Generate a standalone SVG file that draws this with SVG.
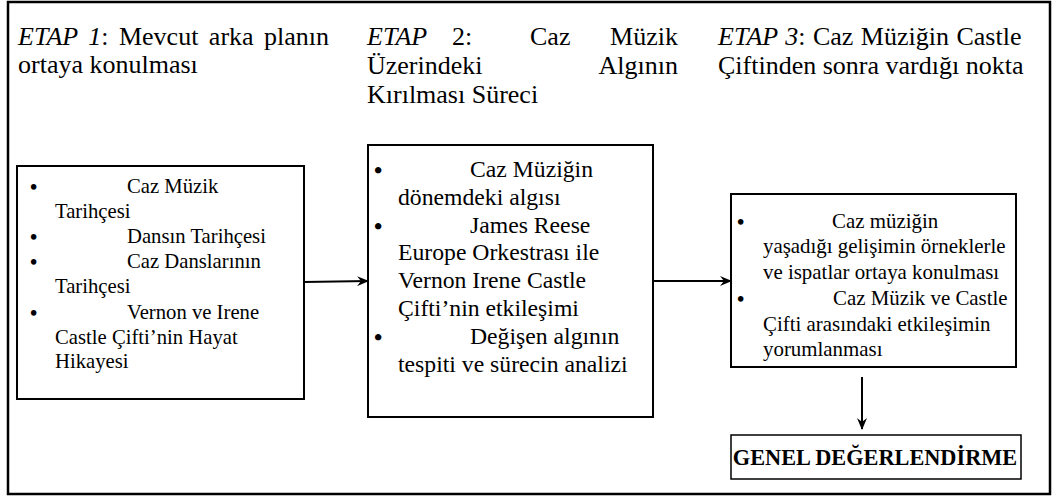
<svg xmlns="http://www.w3.org/2000/svg" width="1053" height="496" viewBox="0 0 1053 496">
<style>
  .box { fill: #fff; stroke: #000; stroke-width: 2; }
  .it { font-style: italic; }
  .bul { font-weight: bold; }
  .conn { stroke: #000; stroke-width: 2; fill: none; }
</style>
<defs>
  <marker id="ah" markerWidth="12" markerHeight="10" refX="11" refY="5" orient="auto" markerUnits="userSpaceOnUse">
    <path d="M0,0 L12,5 L0,10 L4,5 Z" fill="#000"/>
  </marker>
</defs>
<rect x="0" y="0" width="1053" height="496" fill="#fff"/>
<rect id="frame" x="8" y="2" width="1042" height="492" fill="none" stroke="#000" stroke-width="2.5"/>

<g id="titles" font-family="Liberation Serif, serif" font-size="26" fill="#000">
  <text x="18" y="45" word-spacing="4"><tspan class="it">ETAP 1</tspan>: Mevcut arka planın</text>
  <text x="18" y="73">ortaya konulması</text>
  <text x="367" y="45" class="it">ETAP</text>
  <text x="452" y="45">2:</text>
  <text x="530" y="45">Caz</text>
  <text x="678" y="45" text-anchor="end">Müzik</text>
  <text x="367" y="74">Üzerindeki</text>
  <text x="678" y="74" text-anchor="end">Algının</text>
  <text x="367" y="103">Kırılması Süreci</text>
  <text x="718" y="45" word-spacing="1"><tspan class="it">ETAP 3</tspan>: Caz Müziğin Castle</text>
  <text x="718" y="74">Çiftinden sonra vardığı nokta</text>
</g>

<g id="node1">
  <rect class="box" x="17" y="166" width="287" height="233"/>
  <g font-family="Liberation Serif, serif" font-size="20.7" fill="#000">
    <text class="bul" x="30" y="194">•</text><text x="127" y="193">Caz Müzik</text>
    <text x="55" y="218">Tarihçesi</text>
    <text class="bul" x="30" y="244">•</text><text x="127" y="243">Dansın Tarihçesi</text>
    <text class="bul" x="30" y="269">•</text><text x="127" y="268">Caz Danslarının</text>
    <text x="55" y="293">Tarihçesi</text>
    <text class="bul" x="30" y="320">•</text><text x="127" y="319">Vernon ve Irene</text>
    <text x="55" y="344">Castle Çifti’nin Hayat</text>
    <text x="55" y="368">Hikayesi</text>
  </g>
</g>

<g id="node2">
  <rect class="box" x="368" y="145" width="285" height="272"/>
  <g font-family="Liberation Serif, serif" font-size="23.7" fill="#000">
    <text class="bul" x="374" y="178">•</text><text x="470" y="177">Caz Müziğin</text>
    <text x="398" y="205">dönemdeki algısı</text>
    <text class="bul" x="374" y="234">•</text><text x="470" y="233">James Reese</text>
    <text x="398" y="260">Europe Orkestrası ile</text>
    <text x="398" y="288">Vernon Irene Castle</text>
    <text x="398" y="316">Çifti’nin etkileşimi</text>
    <text class="bul" x="374" y="345">•</text><text x="470" y="344">Değişen algının</text>
    <text x="398" y="372">tespiti ve sürecin analizi</text>
  </g>
</g>

<g id="node3">
  <rect class="box" x="731" y="194" width="285" height="173"/>
  <g font-family="Liberation Serif, serif" font-size="20.9" fill="#000">
    <text class="bul" x="737" y="229">•</text><text x="832" y="228">Caz müziğin</text>
    <text x="763" y="253">yaşadığı gelişimin örneklerle</text>
    <text x="763" y="279">ve ispatlar ortaya konulması</text>
    <text class="bul" x="737" y="306">•</text><text x="833" y="305">Caz Müzik ve Castle</text>
    <text x="763" y="331">Çifti arasındaki etkileşimin</text>
    <text x="763" y="356">yorumlanması</text>
  </g>
</g>

<g id="node4">
  <rect x="731" y="435" width="290" height="44" fill="#fff" stroke="#000" stroke-width="1.5"/>
  <text x="875" y="465" font-family="Liberation Serif, serif" font-size="22.3" font-weight="bold" text-anchor="middle" fill="#000">GENEL DEĞERLENDİRME</text>
</g>

<g id="connectors">
  <line class="conn" x1="304" y1="282" x2="368" y2="281" marker-end="url(#ah)"/>
  <line class="conn" x1="653" y1="281" x2="731" y2="281" marker-end="url(#ah)"/>
  <line class="conn" x1="862" y1="377" x2="862" y2="429" marker-end="url(#ah)"/>
</g>
</svg>
